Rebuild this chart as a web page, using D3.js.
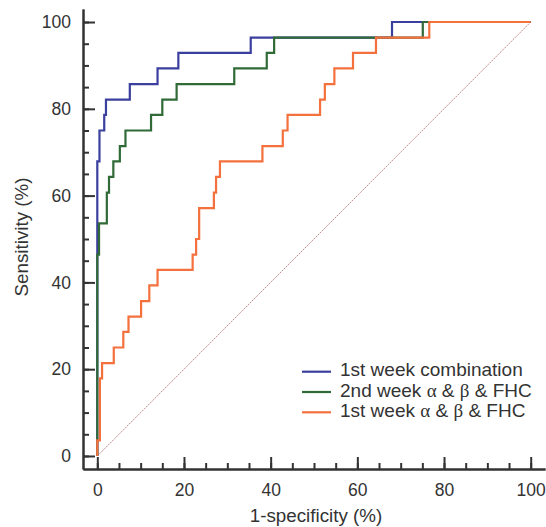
<!DOCTYPE html>
<html>
<head>
<meta charset="utf-8">
<script src="https://cdn.jsdelivr.net/npm/d3@7"></script>
<style>
  body { margin: 0; background: #fff; }
  text { font-family: "Liberation Sans", Arial, sans-serif; fill: #333; }
  tspan.greek { font-family: "Liberation Serif", "Times New Roman", serif; }
</style>
</head>
<body>
<div id="chart"></div>
<script>
// ROC step corners (1-specificity %, sensitivity %)
var seriesNames = ["1st week combination", "2nd week \u03b1 & \u03b2 & FHC", "1st week \u03b1 & \u03b2 & FHC"];
var seriesColors = ["#3b3f9d", "#2f6a37", "#f4703c"];

var comboFpr = [0, 0, 0.5, 1.6, 2.0, 7.5, 13.9, 18.7, 35.4, 68.0, 100];
var comboTpr = [0, 67.9, 75.0, 78.6, 82.1, 85.7, 89.3, 92.9, 96.4, 100, 100];

var week2Fpr = [0, 0, 0.4, 2.2, 2.7, 3.7, 5.2, 6.5, 12.4, 15.0, 18.3, 31.6, 39.1, 40.8, 75.1, 100];
var week2Tpr = [0, 46.4, 53.6, 60.7, 64.3, 67.9, 71.4, 75.0, 78.6, 82.1, 85.7, 89.3, 92.9, 96.4, 100, 100];

var week1Fpr = [0, 0, 0.6, 1.1, 3.8, 6.0, 7.2, 10.1, 12.0, 13.9, 22.0, 22.8, 23.5, 26.9, 27.4, 28.3,
                38.1, 42.8, 43.9, 51.4, 52.5, 54.7, 59.0, 64.3, 76.6, 100];
var week1Tpr = [0, 3.6, 17.9, 21.4, 25.0, 28.6, 32.1, 35.7, 39.3, 42.9, 46.4, 50.0, 57.1, 60.7, 64.3, 67.9,
                71.4, 75.0, 78.6, 82.1, 85.7, 89.3, 92.9, 96.4, 100, 100];

var majorTicks = [0, 20, 40, 60, 80, 100];
var minorTicks = d3.range(0, 101, 5);

var svgWidth = 546;
var svgHeight = 527;

var svg = d3.select("#chart")
  .append("svg")
  .attr("width", svgWidth)
  .attr("height", svgHeight);

var xScale = d3.scaleLinear().domain([-3.3, 103.3]).range([83, 545]);
var yScale = d3.scaleLinear().domain([-3, 103]).range([469, 9]);

// chance diagonal
svg.append("line")
  .attr("x1", xScale(0)).attr("y1", yScale(0))
  .attr("x2", xScale(100)).attr("y2", yScale(100))
  .attr("stroke", "#c28a8a")
  .attr("stroke-width", 1)
  .attr("stroke-dasharray", "2,1");

// curves
var series = [
  { fpr: comboFpr, tpr: comboTpr },
  { fpr: week2Fpr, tpr: week2Tpr },
  { fpr: week1Fpr, tpr: week1Tpr }
];

var line = d3.line()
  .x(d => xScale(d[0]))
  .y(d => yScale(d[1]))
  .curve(d3.curveStepAfter);

series.forEach(function(s, i) {
  var pts = s.fpr.map((x, j) => [x, s.tpr[j]]);
  svg.append("path")
    .datum(pts)
    .attr("fill", "none")
    .attr("stroke", seriesColors[i])
    .attr("stroke-width", 2.2)
    .attr("d", line);
});

// axes: minor ticks then major ticks, pointing inward
function styleAxis(g) {
  g.selectAll("path.domain").attr("stroke", "#333").attr("stroke-width", 2);
  g.selectAll(".tick line").attr("stroke", "#333").attr("stroke-width", 2);
}

var xMinor = svg.append("g")
  .attr("transform", `translate(0, 469)`)
  .call(d3.axisBottom(xScale).tickValues(minorTicks).tickSize(-6).tickSizeOuter(0).tickFormat(""));
styleAxis(xMinor);

var xMajor = svg.append("g")
  .attr("transform", `translate(0, 469)`)
  .call(d3.axisBottom(xScale).tickValues(majorTicks).tickSize(-12).tickSizeOuter(0).tickPadding(15));
styleAxis(xMajor);
xMajor.selectAll("text").attr("font-size", 17.5).attr("fill", "#333");

var yMinor = svg.append("g")
  .attr("transform", `translate(83, 0)`)
  .call(d3.axisLeft(yScale).tickValues(minorTicks).tickSize(-6).tickSizeOuter(0).tickFormat(""));
styleAxis(yMinor);

var yMajor = svg.append("g")
  .attr("transform", `translate(83, 0)`)
  .call(d3.axisLeft(yScale).tickValues(majorTicks).tickSize(-12).tickSizeOuter(0).tickPadding(12));
styleAxis(yMajor);
yMajor.selectAll("text").attr("font-size", 17.5).attr("fill", "#333");

// axis titles
svg.append("text")
  .attr("x", 316)
  .attr("y", 522)
  .attr("text-anchor", "middle")
  .attr("font-size", 18.8)
  .text("1-specificity (%)");

svg.append("text")
  .attr("transform", "translate(28, 237) rotate(-90)")
  .attr("text-anchor", "middle")
  .attr("font-size", 18.8)
  .text("Sensitivity (%)");

// legend (greek letters set in a serif face like the original)
var legend = svg.append("g");
seriesNames.forEach(function(name, i) {
  var y = 371.7 + i * 20.3;
  legend.append("line")
    .attr("x1", 302).attr("x2", 331)
    .attr("y1", y).attr("y2", y)
    .attr("stroke", seriesColors[i])
    .attr("stroke-width", 2.2);
  var t = legend.append("text")
    .attr("x", 340)
    .attr("y", y + 4.5)
    .attr("font-size", 19);
  name.split(/([\u03b1\u03b2])/).forEach(function(part) {
    if (!part) return;
    t.append("tspan")
      .classed("greek", /[\u03b1\u03b2]/.test(part))
      .text(part);
  });
});
</script>
</body>
</html>
